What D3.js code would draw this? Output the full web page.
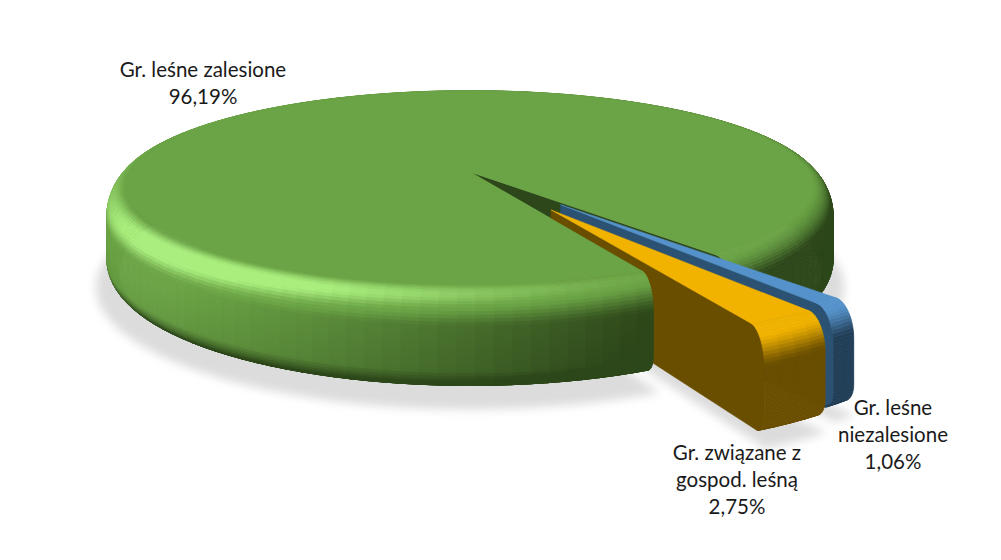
<!DOCTYPE html>
<html><head><meta charset="utf-8">
<script src="https://cdn.jsdelivr.net/npm/d3@7/dist/d3.min.js"></script>
<style>html,body{margin:0;background:#fff}svg{display:block}text{font-family:Lato,"Open Sans",sans-serif;font-size:20.5px;fill:#1a1a1a;text-anchor:middle}</style>
</head><body><svg id="c" width="1001" height="560"></svg>
<script>
// data
const categories = ["Gr. leśne zalesione","Gr. leśne niezalesione","Gr. związane z gospod. leśną"];
const values = [96.19,1.06,2.75];
const valueLabels = ["96,19%","1,06%","2,75%"];
const labelLines = [["Gr. leśne zalesione"],["Gr. leśne","niezalesione"],["Gr. związane z","gospod. leśną"]];

// styles
const bases=["#6ba446","#5592cb","#f2b300"], darks=["#2d471a","#213e57","#6a4e00"], lights=["#aaee7e","#8cc0ee","#ffd95e"];
const labelPos=[[203,77],[893,415],[737,460]];
const lineH=27;

// projection of the tilted disc
const cx=470,A=339.5,a=66.4,b=172,k=-0.1606,H=82,bevelR=.055,bevelD=28;
const proj=(u,v,d=0)=>{const w=1+k*v;return [cx+A*u/w,(b+a*v+d)/w];};
const rad=d=>d*Math.PI/180;
const start=rad(64.3);
const pie=d3.pie().sort(null).value(d=>d).startAngle(start).endAngle(start+2*Math.PI);
const arcs=pie(values);
const explode=[0,.415,.44];
const I0=.74;

const svg=d3.select("#c");
const defs=svg.append("defs");
defs.append("filter").attr("id","sh").attr("x","-20%").attr("y","-20%").attr("width","140%").attr("height","140%")
 .append("feGaussianBlur").attr("stdDeviation",5);
const line=d3.line();

// profile: t 0..1 -> radius, drop, normal tilt
function prof(t){
  const tb=.34, te=.78;
  if(t<tb){const p=t/tb*Math.PI/2;return {r:1+bevelR*Math.sin(p),d:bevelD*(1-Math.cos(p)),phi:p};}
  if(t<te){const s=(t-tb)/(te-tb);return {r:1+bevelR,d:bevelD+(H-16-bevelD)*s,phi:Math.PI/2+s*.12};}
  const s=(t-te)/(1-te),p=s*Math.PI/2;
  return {r:1+bevelR-.035*(1-Math.cos(p)),d:H-16+16*Math.sin(p),phi:Math.PI/2+.12+p*.75};
}
function col(i,th,phi){
  const sp=Math.sin(phi), f=Math.pow(sp,4);
  const Lx=-.44-.26*f, Ly=.58-.23*f, Lz=I0;
  const I=Math.cos(th)*sp*Lx+Math.sin(th)*sp*Ly+Math.cos(phi)*Lz;
  if(I>=I0){const s=Math.min(1,(I-I0)/(1-I0));return d3.interpolateRgb(bases[i],lights[i])(s*s);}
  const s=Math.max(0,I/I0);
  return d3.interpolateRgb(darks[i],bases[i])(Math.pow(s,1.15));
}
function center(i){
  const m=(arcs[i].startAngle+arcs[i].endAngle)/2;
  return [explode[i]*Math.cos(m),explode[i]*Math.sin(m)];
}
const pt=(c,th,r,d)=>proj(c[0]+r*Math.cos(th),c[1]+r*Math.sin(th),d);
function angles(t0,t1,step){
  const n=Math.max(1,Math.ceil((t1-t0)/step));
  return d3.range(n+1).map(j=>t0+(t1-t0)*j/n);
}
const NB=44;
function rim(g,i,t0,t1){
  const c=center(i), as=angles(t0,t1,rad(2.5));
  for(let j=NB-1;j>=0;j--){
    const p0=prof(j/NB),p1=prof((j+1)/NB),pm=prof((j+.5)/NB);
    for(let q=0;q<as.length-1;q++){
      const x0=as[q],x1=as[q+1],col_=col(i,(x0+x1)/2,pm.phi);
      g.append("path").attr("d",line([pt(c,x0,p0.r,p0.d),pt(c,x1,p0.r,p0.d),pt(c,x1,p1.r,p1.d),pt(c,x0,p1.r,p1.d)])+"Z")
       .attr("fill",col_).attr("stroke",col_).attr("stroke-width",.7);
    }
  }
}
function topFace(g,i,t0,t1){
  const c=center(i);
  const pts=[proj(c[0],c[1])].concat(angles(t0,t1,rad(1.5)).map(x=>pt(c,x,1,0)));
  g.append("path").attr("d",line(pts)+"Z").attr("fill",bases[i]).attr("stroke",bases[i]).attr("stroke-width",.5);
}
function wall(g,i,th,fill){
  const c=center(i);
  const ts=d3.range(0,1.001,.04).map(prof);
  const pts=[proj(c[0],c[1])].concat(ts.map(p=>pt(c,th,p.r,p.d))).concat([proj(c[0],c[1],H)]);
  g.append("path").attr("d",line(pts)+"Z").attr("fill",fill).attr("stroke",fill).attr("stroke-width",.5);
}
function shadow(g,i,t0,t1,grow,dr){
  const c=center(i);
  const pts=[proj(c[0],c[1],H+dr)].concat(angles(t0,t1,rad(3)).map(x=>pt(c,x,1+grow,H+dr)));
  g.append("path").attr("d",line(pts)+"Z").attr("fill","#dcdcdc");
}

// shadows
const sg=svg.append("g").attr("filter","url(#sh)");
shadow(sg,0,arcs[0].startAngle,arcs[0].endAngle,.085,12);
shadow(sg,2,arcs[2].startAngle,arcs[2].endAngle,.06,10);
shadow(sg,1,arcs[1].startAngle,arcs[1].endAngle,.06,8);

// main slice
const g0=svg.append("g");
wall(g0,0,arcs[0].endAngle,darks[0]);
rim(g0,0,arcs[0].startAngle,arcs[0].endAngle);
topFace(g0,0,arcs[0].startAngle,arcs[0].endAngle);
// exploded slices
const g1=svg.append("g");
wall(g1,1,arcs[1].endAngle,"#2b5273");
rim(g1,1,arcs[1].startAngle,arcs[1].endAngle);
topFace(g1,1,arcs[1].startAngle,arcs[1].endAngle);
const g2=svg.append("g");
wall(g2,2,arcs[2].endAngle,darks[2]);
rim(g2,2,arcs[2].startAngle,arcs[2].endAngle);
topFace(g2,2,arcs[2].startAngle,arcs[2].endAngle);
// nearest part of main slice passes in front of the exploded wall
const g3=svg.append("g");
const fs=arcs[0].startAngle, fe=fs+rad(70);
rim(g3,0,fs,fe);
topFace(g3,0,fs,fe);

// labels
const tg=svg.append("g");
categories.forEach((cat,i)=>{
  const lines=labelLines[i].concat([valueLabels[i]]);
  lines.forEach((s,j)=>tg.append("text").attr("x",labelPos[i][0]).attr("y",labelPos[i][1]+j*lineH).text(s));
});
</script></body></html>
